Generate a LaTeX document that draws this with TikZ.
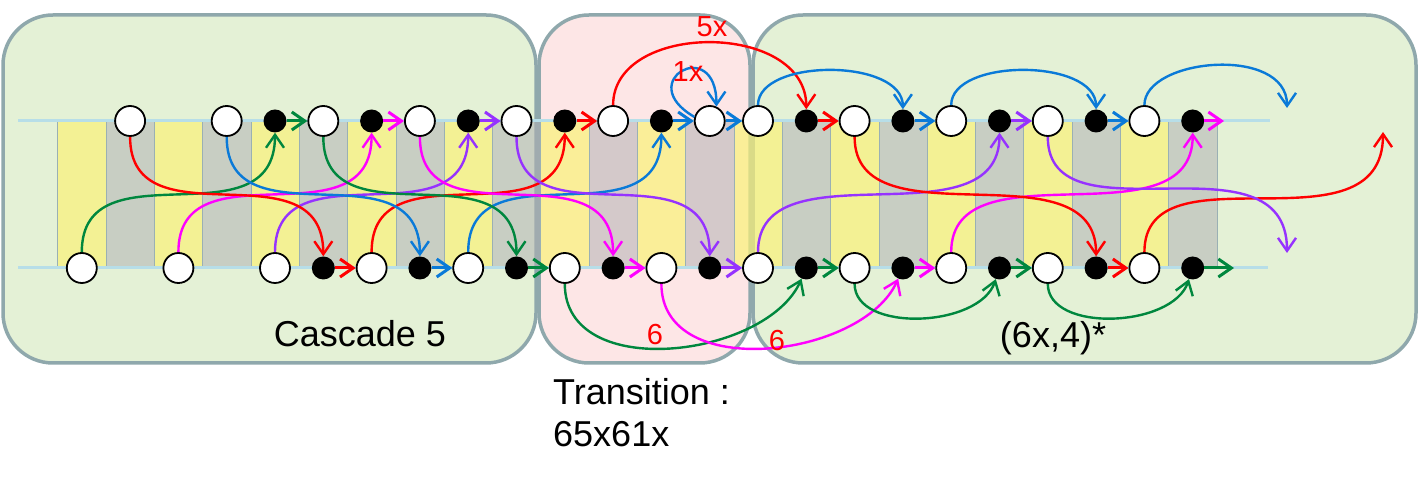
\documentclass[tikz,border=0pt]{standalone}
\usepackage{fontspec}
\setmainfont{Liberation Sans}
\usetikzlibrary{arrows.meta}
\definecolor{panelline}{HTML}{8FA8AC}
\definecolor{gpanel}{HTML}{E4F1D6}
\definecolor{ppanel}{HTML}{FDE6E6}
\definecolor{rail}{HTML}{B7DEE8}
\definecolor{ystripe}{RGB}{250,242,120}
\definecolor{gstripe}{RGB}{176,175,178}
\definecolor{sline}{HTML}{9AB0B4}
\definecolor{cred}{RGB}{255,0,0}
\definecolor{cgreen}{RGB}{0,135,62}
\definecolor{cblue}{RGB}{10,122,216}
\definecolor{cmag}{RGB}{255,0,255}
\definecolor{cpur}{RGB}{150,50,255}
\tikzset{W/.style={circle, draw, line width=1.8pt, fill=white, minimum size=30pt, inner sep=0pt}}
\tikzset{K/.style={circle, fill=black, minimum size=23pt, inner sep=0pt}}
\tikzset{C/.style={line width=2.4pt, -{Straight Barb[length=13pt,width=18pt]}}}
\tikzset{S/.style={line width=3pt, -{Straight Barb[length=13pt,width=18pt]}}}
\tikzset{P/.style={draw=panelline, line width=3.5pt, rounded corners=50pt}}
\tikzset{L/.style={font=\fontsize{36}{40}\selectfont, anchor=base, inner sep=0pt}}
\tikzset{N/.style={text=cred, font=\fontsize{29}{32}\selectfont, inner sep=0pt}}
\begin{document}
\begin{tikzpicture}[x=1pt,y=1pt]
\useasboundingbox (0,0) rectangle (1421,486);
\draw[P, fill=gpanel] (3,123) rectangle (536,471);
\draw[P, fill=ppanel] (539,123) rectangle (750,471);
\draw[P, fill=gpanel] (753,123) rectangle (1416,471);
\foreach \j in {1,3,...,23} \draw[sline, fill=ystripe, fill opacity=0.7] ({33.5+48.3*(\j-0.5)},218) rectangle ({33.5+48.3*(\j+0.5)},365);
\foreach \j in {2,4,...,24} \draw[sline, fill=gstripe, fill opacity=0.52] ({33.5+48.3*(\j-0.5)},218) rectangle ({33.5+48.3*(\j+0.5)},365);
\draw[rail, line width=3pt] (18,365) -- (1270,365);
\draw[rail, line width=3pt] (18,218) -- (1268,218);
\foreach \k in {2,4,6,8,10,12,14,15,17,19,21,23} \node[W] (t\k) at ({33.5+48.3*\k},365) {};
\foreach \k in {5,7,9,11,13,16,18,20,22,24} \node[K] (t\k) at ({33.5+48.3*\k},365) {};
\foreach \k in {1,3,...,23} \node[W] (b\k) at ({33.5+48.3*\k},218) {};
\foreach \k in {6,8,...,24} \node[K] (b\k) at ({33.5+48.3*\k},218) {};
\coordinate (e1) at (1224,365);
\coordinate (e2) at (1234,218);
\coordinate (e3) at (1383,354);
\coordinate (e4) at (1287,233);
\coordinate (e5) at (1287,378);
\foreach \s/\e/\col in {t5/t6/cgreen, t7/t8/cmag, t9/t10/cpur, t11/t12/cred, t13/t14/cblue, t14/t15/cblue, t16/t17/cred, t18/t19/cblue, t20/t21/cpur, t22/t23/cblue, t24/e1/cmag, b6/b7/cred, b8/b9/cblue, b10/b11/cgreen, b12/b13/cmag, b14/b15/cpur, b16/b17/cgreen, b18/b19/cmag, b20/b21/cgreen, b22/b23/cred, b24/e2/cgreen}
  \draw[S, \col] (\s) -- (\e);
\foreach \s/\e/\col in {b1/t5/cgreen, b3/t7/cmag, b5/t9/cpur, b7/t11/cred, b9/t13/cblue, b15/t20/cpur, b19/t24/cmag, b23/e3/cred}
  \draw[C, \col] (\s) .. controls +(0,125) and +(0,-125) .. (\e);
\foreach \s/\e/\col in {t2/b6/cred, t4/b8/cblue, t6/b10/cgreen, t8/b12/cmag, t10/b14/cpur, t17/b22/cred, t21/e4/cpur}
  \draw[C, \col] (\s) .. controls +(0,-125) and +(0,125) .. (\e);
\draw[C, cred] (t12) .. controls +(0,100) and +(0,100) .. (t16);
\foreach \s/\e in {t15/t18, t19/t22, t23/e5} \draw[C, cblue] (\s) .. controls +(0,63) and +(0,63) .. (\e);
\draw[C, cblue] (t14.165) .. controls +(150:72) and +(90:72) .. (t14.65);
\draw[C, cgreen] (b11) .. controls +(0,-115) and +(-40,-90) .. (b16);
\draw[C, cmag] (b13) .. controls +(0,-115) and +(-40,-90) .. (b18);
\foreach \s/\e in {b17/b20, b21/b24} \draw[C, cgreen] (\s) .. controls +(0,-65) and +(-20,-60) .. (\e);
\node[N] (n5x) at (712,459) {5x};
\node[N] (n1x) at (688,414) {1x};
\node[N] (n6a) at (655,151) {6};
\node[N] (n6b) at (777,145) {6};
\node[L] (cascade) at (360,139) {Cascade 5};
\node[L] (period) at (1053,138) {(6x,4)*};
\node[L, anchor=base west] (trans) at (553,81) {Transition :};
\node[L, anchor=base west] (word) at (553,39) {65x61x};
\end{tikzpicture}
\end{document}
